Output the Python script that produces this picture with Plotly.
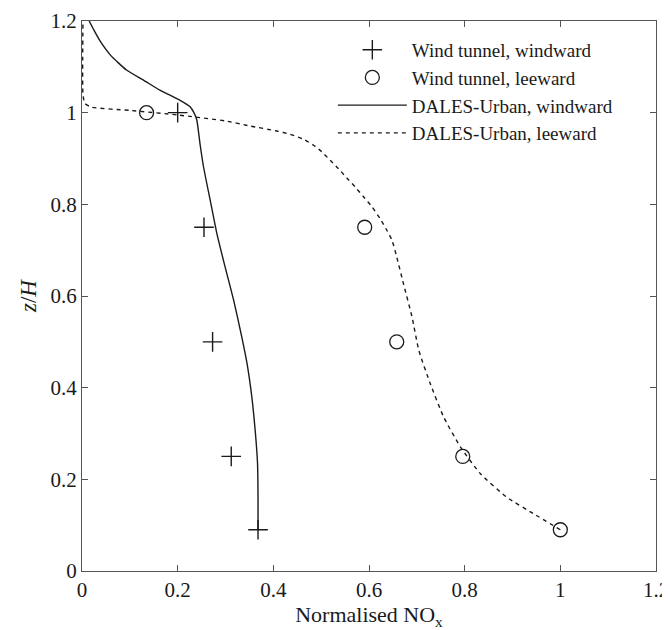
import plotly.graph_objects as go

# Wind tunnel measurements
wt_windward_x = [0.20, 0.255, 0.273, 0.312, 0.368]
wt_windward_z = [1.0, 0.75, 0.5, 0.25, 0.09]
wt_leeward_x = [0.135, 0.591, 0.658, 0.796, 1.0]
wt_leeward_z = [1.0, 0.75, 0.5, 0.25, 0.09]

# DALES-Urban profiles
dales_windward_x = [0.368, 0.368, 0.367, 0.362, 0.355, 0.345, 0.334, 0.317, 0.299, 0.282,
                    0.268, 0.254, 0.247, 0.240, 0.234, 0.226, 0.205, 0.163, 0.13, 0.093,
                    0.06, 0.038, 0.025, 0.015]
dales_windward_z = [0.09, 0.161, 0.234, 0.307, 0.38, 0.453, 0.511, 0.591, 0.664, 0.736,
                    0.809, 0.882, 0.93, 0.984, 1.0, 1.013, 1.027, 1.049, 1.07, 1.093,
                    1.125, 1.156, 1.18, 1.2]
dales_leeward_x = [1.0, 0.944, 0.888, 0.833, 0.791, 0.756, 0.728, 0.704, 0.690, 0.672,
                   0.658, 0.648, 0.637, 0.623, 0.606, 0.589, 0.571, 0.554, 0.536, 0.519,
                   0.501, 0.484, 0.463, 0.435, 0.407, 0.351, 0.30, 0.20, 0.10,
                   0.02, 0.006, 0.002, 0.002]
dales_leeward_z = [0.09, 0.125, 0.161, 0.212, 0.271, 0.336, 0.409, 0.482, 0.554, 0.627,
                   0.685, 0.722, 0.744, 0.769, 0.795, 0.816, 0.838, 0.857, 0.878, 0.896,
                   0.915, 0.929, 0.942, 0.953, 0.960, 0.971, 0.982, 0.995, 1.005,
                   1.012, 1.02, 1.04, 1.2]

x_ticks = [0, 0.2, 0.4, 0.6, 0.8, 1.0, 1.2]
x_ticktext = ["0", "0.2", "0.4", "0.6", "0.8", "1", "1.2"]
y_ticks = [0, 0.2, 0.4, 0.6, 0.8, 1.0, 1.2]
y_ticktext = ["0", "0.2", "0.4", "0.6", "0.8", "1", "1.2"]

FONT = "Liberation Serif"
ink = "#1a1a1a"

fig = go.Figure()
fig.add_trace(go.Scatter(
    x=wt_windward_x, y=wt_windward_z, mode="markers", name="Wind tunnel, windward",
    marker=dict(symbol="cross-thin", size=14, line=dict(color=ink, width=1.4), color=ink)))
fig.add_trace(go.Scatter(
    x=wt_leeward_x, y=wt_leeward_z, mode="markers", name="Wind tunnel, leeward",
    marker=dict(symbol="circle-open", size=14, line=dict(color=ink, width=1.3), color=ink)))
fig.add_trace(go.Scatter(
    x=dales_windward_x, y=dales_windward_z, mode="lines", name="DALES-Urban, windward",
    line=dict(color=ink, width=1.4, shape="spline", smoothing=0.5)))
fig.add_trace(go.Scatter(
    x=dales_leeward_x, y=dales_leeward_z, mode="lines", name="DALES-Urban, leeward",
    line=dict(color=ink, width=1.4, dash="4px,4px", shape="spline", smoothing=0.5)))

axis_common = dict(
    showline=True, linecolor="#555555", linewidth=1.2, mirror="ticks",
    ticks="inside", ticklen=6, tickcolor="#555555", tickwidth=1.2,
    showgrid=False, zeroline=False, automargin=False,
    tickfont=dict(family=FONT, size=21, color=ink),
)

# The page body adds an 8px offset; margins compensate so the axes land where the reference has them.
fig.update_layout(
    width=670, height=630,
    margin=dict(l=74, r=22, t=13, b=67),
    paper_bgcolor="white", plot_bgcolor="white",
    font=dict(family=FONT, color=ink),
    xaxis=dict(range=[0, 1.2], tickvals=x_ticks, ticktext=x_ticktext,
               title=dict(text="Normalised NO<sub>x</sub>", font=dict(family=FONT, size=22, color=ink), standoff=0),
               **axis_common),
    yaxis=dict(range=[0, 1.2], tickvals=y_ticks, ticktext=y_ticktext,
               title=dict(text="<i>z</i>/<i>H</i>", font=dict(family=FONT, size=23, color=ink), standoff=7),
               **axis_common),
    legend=dict(x=0.437, y=0.982, xanchor="left", yanchor="top",
                bgcolor="rgba(0,0,0,0)", borderwidth=0,
                font=dict(family=FONT, size=19, color=ink),
                tracegroupgap=0, itemwidth=69),
    showlegend=True,
)

fig.write_html("out.html")
